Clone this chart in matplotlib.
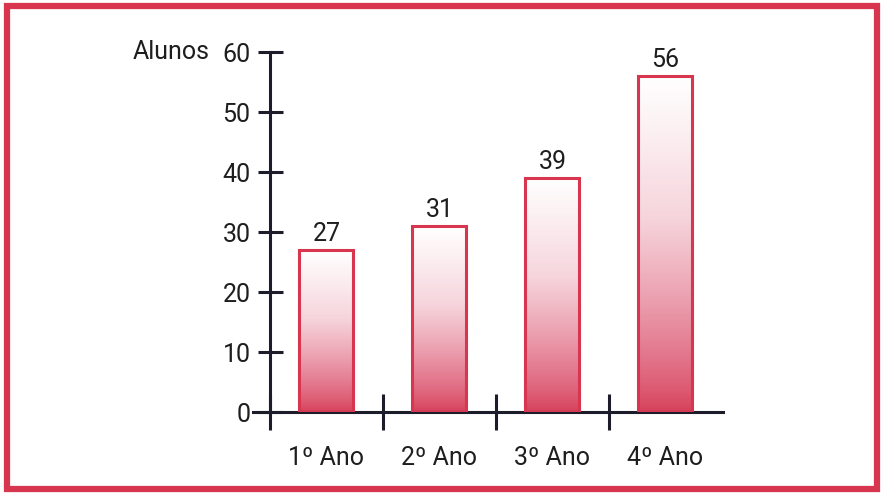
import numpy as np
import matplotlib.pyplot as plt
from matplotlib.patches import Rectangle
from matplotlib.colors import LinearSegmentedColormap

# data
categories = ["1º Ano", "2º Ano", "3º Ano", "4º Ano"]
alunos = [27, 31, 39, 56]
yticks = [0, 10, 20, 30, 40, 50, 60]

red = "#d8354f"
ink = "#1e1e1e"
fs = 18
plt.rcParams['font.family'] = ['Roboto', 'DejaVu Sans']

fig = plt.figure(figsize=(8.84, 4.96), dpi=100)
fig.patch.set_facecolor("white")

# outer frame
fig.patches.append(Rectangle((7 / 884, 7 / 496), 870 / 884, 483 / 496,
                             transform=fig.transFigure, fill=False,
                             edgecolor=red, linewidth=4.5))

ax = fig.add_axes([253 / 884, 84 / 496, 470 / 884, 360 / 496])
ax.set_xlim(-0.65, 3.51)
ax.set_ylim(0, 60)
ax.patch.set_alpha(0)

# gradient white (top) -> red (bottom)
cmap = LinearSegmentedColormap.from_list(
    "grad", ["#d63e58", "#e6869a", "#f6d5dc", "#ffffff"])
grad = np.linspace(0, 1, 256).reshape(-1, 1) ** 0.75

width = 0.478
x = np.arange(len(categories))
bars = ax.bar(x, alunos, width=width, facecolor="none", edgecolor=red,
              linewidth=2.2, zorder=3)
for b in bars:
    x0, h = b.get_x(), b.get_height()
    im = ax.imshow(grad, cmap=cmap, aspect="auto", origin="lower",
                   extent=[x0, x0 + width, 0, h], zorder=2)
    im.set_clip_path(b)
    ax.text(x0 + width / 2, h + 0.6, str(h), ha="center", va="bottom",
            fontsize=fs, color=ink)

# axes styling
for s in ["top", "right"]:
    ax.spines[s].set_visible(False)
ax.spines["left"].set_position(("data", -0.5))
for s in ["left", "bottom"]:
    ax.spines[s].set_linewidth(2.2)
    ax.spines[s].set_color("#1c1c2a")

ax.set_yticks(yticks)
ax.tick_params(axis="y", direction="inout", length=18, width=2.2,
               color="#1c1c2a", labelsize=fs, labelcolor=ink, pad=5)
ax.set_xticks([-0.5, 0.5, 1.5, 2.5])
ax.set_xticklabels([])
ax.tick_params(axis="x", direction="inout", length=26, width=2.2,
               color="#1c1c2a")
for xi, lab in zip(x, categories):
    ax.text(xi, -5.6, lab, ha="center", va="top", fontsize=fs,
            color=ink)

fig.text(133 / 884, 1 - 52 / 496, "Alunos", ha="left", va="center",
         fontsize=fs, color=ink)

fig.savefig("out.png", dpi=100)
